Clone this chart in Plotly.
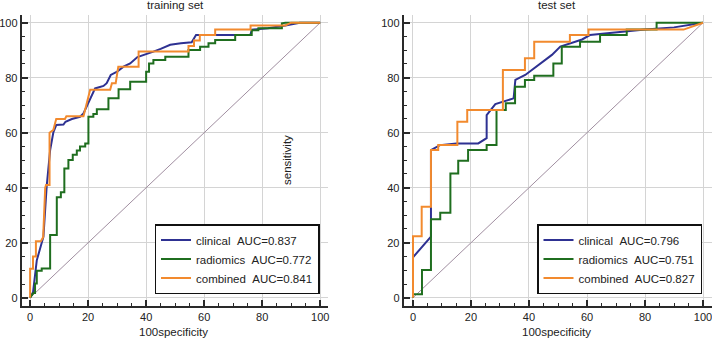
import plotly.graph_objects as go

# ---------------- data (100-specificity, sensitivity) ----------------
names = ["clinical", "radiomics", "combined"]
auc_train = ["0.837", "0.772", "0.841"]
auc_test = ["0.796", "0.751", "0.827"]
colors = ["#2e3192", "#1f6e1f", "#f28a2e"]

train_clin_x = [0, 1, 2.3, 3.7, 4.6, 5.7, 6.9, 8, 9, 11.5, 12.2, 14.4, 17.2, 18.4, 20.7, 22.4, 25.3, 26.4,
                27.8, 30, 32.2, 34.5, 37, 40, 42.5, 45, 48.3, 52, 55.7, 57.2, 75.9, 76.5, 82, 88, 93, 100]
train_clin_y = [0, 2, 13.6, 18.5, 22.2, 40.4, 53.7, 60.1, 62.8, 63, 64, 65, 65.8, 67, 72.5, 76.1, 77, 78,
                81, 82.2, 84, 85.2, 87.5, 88.5, 89.5, 90.5, 92, 92.5, 92.9, 95.5, 95.5, 97.5, 98, 99, 100, 100]

train_rad_x = [0, 1.1, 1.7, 1.7, 2.3, 2.3, 4, 4, 6.9, 6.9, 9.2, 9.2, 10.6, 10.6, 11.8, 11.8, 13.2, 13.2,
               14.7, 14.7, 16.1, 16.1, 17.2, 17.2, 19, 19, 20.1, 20.1, 21.8, 21.8, 23, 23, 27, 27, 30.5, 30.5,
               34.5, 34.5, 40, 40, 41, 41, 42.5, 42.5, 46.6, 46.6, 54.6, 54.6, 58.6, 58.6, 61.5, 61.5,
               63.8, 63.8, 70.7, 70.7, 76.4, 76.4, 78.7, 78.7, 86.8, 86.8, 88, 100]
train_rad_y = [0, 1.7, 1.7, 5.2, 5.2, 9.8, 9.8, 10.6, 10.6, 22.8, 22.8, 36.5, 36.5, 38.4, 38.4, 47, 47, 50.1,
               50.1, 52, 52, 53.5, 53.5, 55, 55, 56.1, 56.1, 65.8, 65.8, 66.8, 66.8, 68.5, 68.5, 72.5, 72.5, 75.8,
               75.8, 78.5, 78.5, 82.2, 82.2, 85.2, 85.2, 86.4, 86.4, 87.6, 87.6, 90.1, 90.1, 91.3, 91.3, 92.5,
               92.5, 93.7, 93.7, 95.5, 95.5, 97.3, 97.3, 98, 98, 99.8, 100, 100]

train_comb_x = [0, 0, 1, 1, 2, 2, 3.7, 4.5, 5.2, 5.5, 6.7, 6.7, 8, 9, 12, 12.5, 18.4, 19.8, 20.7, 27.6, 28.2,
                29.5, 30.4, 34, 37.4, 37.4, 54.6, 54.6, 56.5, 56.5, 58.5, 58.5, 63.8, 63.8, 76, 76, 88, 90, 100]
train_comb_y = [0, 10.5, 10.5, 15, 15, 20.5, 20.5, 22, 40, 41, 41, 60, 61, 65, 65, 66, 66, 72.5, 75.6, 75.6, 78,
                78, 84, 84, 84, 89.5, 89.5, 91.5, 91.5, 93.5, 93.5, 95.5, 95.5, 97.5, 97.5, 99, 99, 100, 100]

test_clin_x = [0, 0, 6.2, 6.2, 9.3, 15, 22.5, 25.4, 25.4, 28.4, 34.7, 35.3, 38.7, 47.9, 50.8, 58.3, 61, 70, 80, 90, 100]
test_clin_y = [0, 14.7, 22.2, 53.7, 55.5, 56.1, 56.1, 58, 66.4, 70.4, 72.5, 79.2, 81, 88.3, 91.3, 93.9, 95.5, 96.5, 97.5, 98.3, 100]

test_rad_x = [0, 0, 3.1, 3.1, 6.2, 6.2, 9.4, 9.4, 12.9, 12.9, 15.6, 15.6, 19, 19, 25.4, 25.4, 28.8, 28.8, 32, 32,
              35.2, 35.2, 38.6, 38.6, 41.8, 41.8, 48.4, 48.4, 51.3, 51.3, 57.6, 57.6, 64.5, 64.5, 73.7, 73.7,
              84, 84, 100]
test_rad_y = [0, 1.3, 1.3, 10.1, 10.1, 28.5, 28.5, 30.9, 30.9, 45.2, 45.2, 49.8, 49.8, 53.7, 53.7, 55.5, 55.5, 68.3,
              68.3, 70.7, 70.7, 76.7, 76.7, 79.2, 79.2, 80.7, 80.7, 85.2, 85.2, 91.3, 91.3, 93.1, 93.1, 95.5, 95.5,
              97.5, 97.5, 100, 100]

test_comb_x = [0, 0, 3, 3, 6.2, 6.2, 8.7, 8.7, 15.3, 15.3, 18.7, 18.7, 31, 31, 38.6, 38.6, 41.8, 41.8, 54.1, 54.1,
               60.5, 60.5, 93.3, 100]
test_comb_y = [0, 22.4, 22.4, 33.1, 33.1, 53.7, 53.7, 55.5, 55.5, 64, 64, 68.3, 68.3, 82.8, 82.8, 87.1, 87.1, 93.1,
               93.1, 95.5, 95.5, 97.5, 97.5, 100]

diag = [0, 100]
tick_vals = [0, 20, 40, 60, 80, 100]

# ---------------- figure ----------------
W, H = 712, 339
FONT = "Liberation Sans, Arial, sans-serif"
fig = go.Figure()

fig.add_trace(go.Scatter(x=diag, y=diag, mode="lines", line=dict(color="#a08ea0", width=1),
                         showlegend=False, hoverinfo="skip", xaxis="x", yaxis="y"))
fig.add_trace(go.Scatter(x=diag, y=diag, mode="lines", line=dict(color="#a08ea0", width=1),
                         showlegend=False, hoverinfo="skip", xaxis="x2", yaxis="y2"))

train = [(train_clin_x, train_clin_y), (train_rad_x, train_rad_y), (train_comb_x, train_comb_y)]
test = [(test_clin_x, test_clin_y), (test_rad_x, test_rad_y), (test_comb_x, test_comb_y)]

for i, (xs, ys) in enumerate(train):
    fig.add_trace(go.Scatter(x=xs, y=ys, mode="lines", line=dict(color=colors[i], width=2),
                             name=f"{names[i]} \u00a0AUC={auc_train[i]}", xaxis="x", yaxis="y",
                             legend="legend"))
for i, (xs, ys) in enumerate(test):
    fig.add_trace(go.Scatter(x=xs, y=ys, mode="lines", line=dict(color=colors[i], width=2),
                             name=f"{names[i]} \u00a0AUC={auc_test[i]}", xaxis="x2", yaxis="y2",
                             legend="legend2"))

def px_x(p):
    return p / W

def px_y(p):
    return 1 - p / H

axis_common = dict(
    showline=True, linecolor="#2a2a2a", linewidth=2,
    ticks="inside", ticklen=6, tickwidth=1.5, tickcolor="#2a2a2a",
    tickvals=tick_vals, showgrid=True, gridcolor="#d4d4d4", gridwidth=1,
    zeroline=False, automargin=False, ticklabeloverflow="allow",
    tickfont=dict(family=FONT, size=11, color="#222"),
    minor=dict(ticks="inside", dtick=5, tick0=0, ticklen=3, tickwidth=1, tickcolor="#2a2a2a", showgrid=False),
    fixedrange=True,
)

ydom = [px_y(306), px_y(15)]
legend_common = dict(yanchor="bottom", xanchor="right", y=px_y(294),
                     bordercolor="#111", borderwidth=1.5, bgcolor="white",
                     font=dict(family=FONT, size=11.5, color="#222"), itemwidth=30, tracegroupgap=0)

fig.update_layout(
    width=W, height=H,
    margin=dict(l=0, r=0, t=0, b=0),
    paper_bgcolor="white", plot_bgcolor="white",
    font=dict(family=FONT, size=11.5, color="#222"),
    xaxis=dict(domain=[px_x(21.7), px_x(328.3)], range=[-2.9, 102.8], anchor="y", **axis_common),
    yaxis=dict(domain=ydom, range=[-3.0, 102.8], anchor="x", **axis_common),
    xaxis2=dict(domain=[px_x(403.7), 1.0], range=[-3.2, 103.1], anchor="y2", **axis_common),
    yaxis2=dict(domain=ydom, range=[-3.0, 102.8], anchor="x2", **axis_common),
    legend=dict(x=px_x(319.5), **legend_common),
    legend2=dict(x=px_x(702), **legend_common),
    annotations=[
        dict(text="training set", x=px_x(175), y=px_y(5), xref="paper", yref="paper",
             showarrow=False, xanchor="center", yanchor="middle", font=dict(size=11.5)),
        dict(text="test set", x=px_x(557), y=px_y(5), xref="paper", yref="paper",
             showarrow=False, xanchor="center", yanchor="middle", font=dict(size=11.5)),
        dict(text="100specificity", x=px_x(173), y=px_y(332), xref="paper", yref="paper",
             showarrow=False, xanchor="center", yanchor="middle", font=dict(size=11.5)),
        dict(text="100specificity", x=px_x(556), y=px_y(332), xref="paper", yref="paper",
             showarrow=False, xanchor="center", yanchor="middle", font=dict(size=11.5)),
        dict(text="sensitivity", x=px_x(287), y=px_y(160), xref="paper", yref="paper",
             showarrow=False, xanchor="center", yanchor="middle", textangle=-90, font=dict(size=11.5)),
    ],
    showlegend=True,
)

fig.write_html(
    "out.html",
    config={"displayModeBar": False},
    post_script="document.body.style.margin='0';document.body.style.padding='0';"
                "document.documentElement.style.overflow='hidden';",
)
